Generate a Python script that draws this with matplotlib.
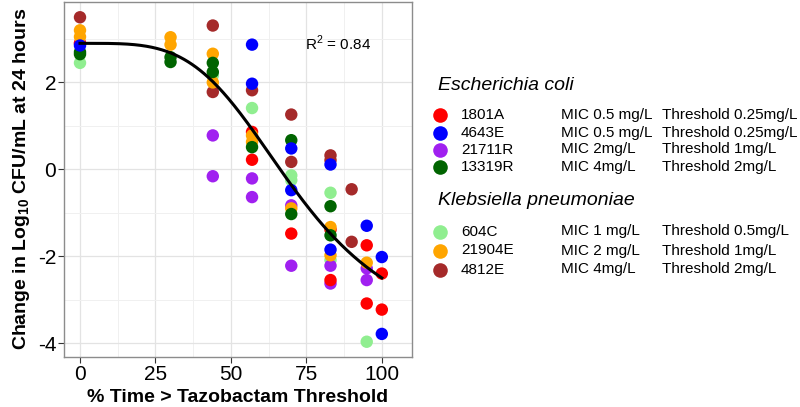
import numpy as np
import matplotlib
matplotlib.use("Agg")
import matplotlib.pyplot as plt
from matplotlib.lines import Line2D

plt.rcParams['font.family'] = ['Liberation Sans', 'DejaVu Sans']
plt.rcParams['mathtext.fontset'] = 'custom'
plt.rcParams['mathtext.rm'] = 'Liberation Sans'
plt.rcParams['mathtext.bf'] = 'Liberation Sans:bold'
plt.rcParams['axes.unicode_minus'] = False

# strain data: (% time > threshold, change in log10 CFU/mL)
strains = ["1801A", "4643E", "21711R", "13319R", "604C", "21904E", "4812E"]
colors = ["#FF0000", "#0000FF", "#A020F0", "#006400", "#90EE90", "#FFA500", "#A52A2A"]
mic = ["MIC 0.5 mg/L", "MIC 0.5 mg/L", "MIC 2mg/L", "MIC 4mg/L",
       "MIC 1 mg/L", "MIC 2 mg/L", "MIC 4mg/L"]
thresh = ["Threshold 0.25mg/L", "Threshold 0.25mg/L", "Threshold 1mg/L", "Threshold 2mg/L",
          "Threshold 0.5mg/L", "Threshold 1mg/L", "Threshold 2mg/L"]

x_1801A = [0, 57, 57, 70, 83, 83, 95, 95, 100, 100]
y_1801A = [2.9, 0.86, 0.22, -1.48, -1.39, -2.55, -1.75, -3.09, -2.40, -3.23]
x_4643E = [0, 57, 57, 70, 70, 83, 83, 95, 100, 100]
y_4643E = [2.85, 2.87, 1.97, 0.48, -0.48, 0.11, -1.85, -1.30, -2.02, -3.79]
x_21711R = [0, 44, 44, 57, 57, 70, 70, 83, 83, 95, 95]
y_21711R = [2.9, 0.78, -0.16, -0.21, -0.64, -0.83, -2.22, -2.22, -2.63, -2.28, -2.55]
x_13319R = [0, 0, 30, 30, 44, 44, 57, 70, 70, 83, 83]
y_13319R = [2.7, 2.65, 2.58, 2.47, 2.45, 2.24, 0.51, 0.67, -1.03, -0.85, -1.52]
x_604C = [0, 44, 57, 70, 70, 83, 83, 95]
y_604C = [2.45, 2.16, 1.41, -0.14, -0.25, -0.54, -2.09, -3.97]
x_21904E = [0, 0, 30, 30, 44, 44, 57, 57, 70, 83, 83, 95]
y_21904E = [3.2, 3.05, 3.04, 2.87, 2.66, 2.0, 0.78, 0.63, -0.9, -1.33, -1.98, -2.15]
x_4812E = [0, 44, 44, 57, 70, 70, 83, 83, 90, 90]
y_4812E = [3.5, 3.31, 1.78, 1.82, 1.26, 0.17, 0.32, 0.21, -0.46, -1.67]

xs = [x_1801A, x_4643E, x_21711R, x_13319R, x_604C, x_21904E, x_4812E]
ys = [y_1801A, y_4643E, y_21711R, y_13319R, y_604C, y_21904E, y_4812E]

# sigmoid Emax fit
top, bottom, ec50, hill = 2.9, -4.0, 72.0, 3.9
r2_text = "R$^2$ = 0.84"

fig = plt.figure(figsize=(8, 4.07), dpi=100)
ax = fig.add_axes([0.08, 0.123, 0.435, 0.873])

ax.set_xlim(-5.3, 110)
ax.set_ylim(-4.32, 3.86)
ax.set_xticks([0, 25, 50, 75, 100])
ax.set_yticks([-4, -2, 0, 2])
ax.set_xticks([12.5, 37.5, 62.5, 87.5], minor=True)
ax.set_yticks([-3, -1, 1, 3], minor=True)
ax.grid(True, which='major', color='#E3E3E3', linewidth=0.9)
ax.grid(True, which='minor', color='#F0F0F0', linewidth=0.7)
ax.set_axisbelow(True)
ax.tick_params(which='minor', length=0)
ax.tick_params(which='major', length=4, color='#333333', labelsize=15, pad=1.5)
for sp in ax.spines.values():
    sp.set_color('#8C8C8C')
    sp.set_linewidth(1.0)

# draw order so overlaps look like the original
order = [6, 4, 2, 0, 5, 3, 1]
for i in order:
    ax.scatter(xs[i], ys[i], s=80, color=colors[i], edgecolors='none', zorder=3)

xc = np.linspace(0, 100, 300)
yc = bottom + (top - bottom) / (1 + (xc / ec50) ** hill)
ax.plot(xc, yc, color='black', linewidth=2.2, zorder=4)

ax.text(85.5, 2.9, r2_text, fontsize=11, ha='center', va='center')

ax.set_ylabel(r"Change in Log$_{\mathbf{10}}$ CFU/mL at 24 hours", fontsize=14,
              fontweight='bold', labelpad=4)

# legend drawn by hand in pixel positions
W, H = 800, 407
def fx(px):
    return px / W
def fy(py):
    return 1 - py / H

fig.text(fx(238), fy(397), "% Time > Tazobactam Threshold", fontsize=14, fontweight='bold',
         ha='center', va='center')

fig.text(fx(438), fy(85), "Escherichia coli", fontsize=14, style='italic', va='center')
fig.text(fx(438), fy(200), "Klebsiella pneumoniae", fontsize=14, style='italic', va='center')
rows = [115, 132.7, 149.5, 167.5, 231.5, 250.5, 269.5]
for i, r in enumerate(rows):
    fig.add_artist(Line2D([fx(440)], [fy(r)], marker='o', markersize=10.5, color=colors[i],
                          markeredgewidth=0, transform=fig.transFigure))
    fig.text(fx(461), fy(r), strains[i], fontsize=11, va='center')
    fig.text(fx(561), fy(r), mic[i], fontsize=11, va='center')
    fig.text(fx(662), fy(r), thresh[i], fontsize=11, va='center')

fig.savefig("out.png", dpi=100)
